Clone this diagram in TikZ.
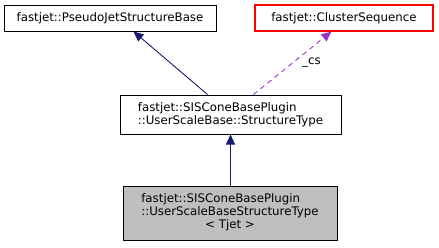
\documentclass[tikz,border=0pt]{standalone}
\usepackage{fontspec}
\setmainfont{DejaVu Sans}
\usetikzlibrary{arrows.meta}
\begin{document}
\begin{tikzpicture}[x=1pt,y=-1pt,
  lbl/.style={font=\fontsize{11.8}{13.5}\selectfont},
  box/.style={draw, line width=1pt, minimum height=26pt, inner sep=0pt, lbl},
  inh/.style={draw=navy, line width=0.9pt, -{Triangle[length=10pt,width=9pt]}},
  use/.style={draw=purp, line width=0.9pt, dash pattern=on 5pt off 4pt, -{Triangle[length=10pt,width=9pt]}}]
\definecolor{navy}{RGB}{25,25,112}
\definecolor{purp}{RGB}{154,50,205}
\definecolor{boxgray}{RGB}{191,191,191}
\useasboundingbox (0,0) rectangle (439,247);
\node[box, minimum width=212pt] (A) at (110,18) {fastjet::PseudoJetStructureBase};
\node[box, draw=red, line width=1.2pt, minimum width=178pt] (B) at (344,18) {fastjet::ClusterSequence};
\node[box, minimum width=221pt, minimum height=39pt, align=left] (C) at (230.5,114.5) {fastjet::SISConeBasePlugin\\::UserScaleBase::StructureType};
\node[box, fill=boxgray, minimum width=214pt, minimum height=54pt] (D) at (230,213) {\renewcommand{\arraystretch}{0.92}\begin{tabular}{@{}l@{}}fastjet::SISConeBasePlugin\\ ::UserScaleBaseStructureType\\ \multicolumn{1}{@{}c@{}}{< Tjet >}\end{tabular}};
\draw[inh] ([xshift=88pt]C.north west) -- ([xshift=130pt]A.south west);
\draw[use] ([xshift=134pt]C.north west) -- node[pos=0.5, right=6pt, lbl, text=black] {\_cs} ([xshift=77pt]B.south west);
\draw[inh] ([xshift=111pt]C.south west |- D.north) -- ([xshift=111pt]C.south west);
\end{tikzpicture}
\end{document}
